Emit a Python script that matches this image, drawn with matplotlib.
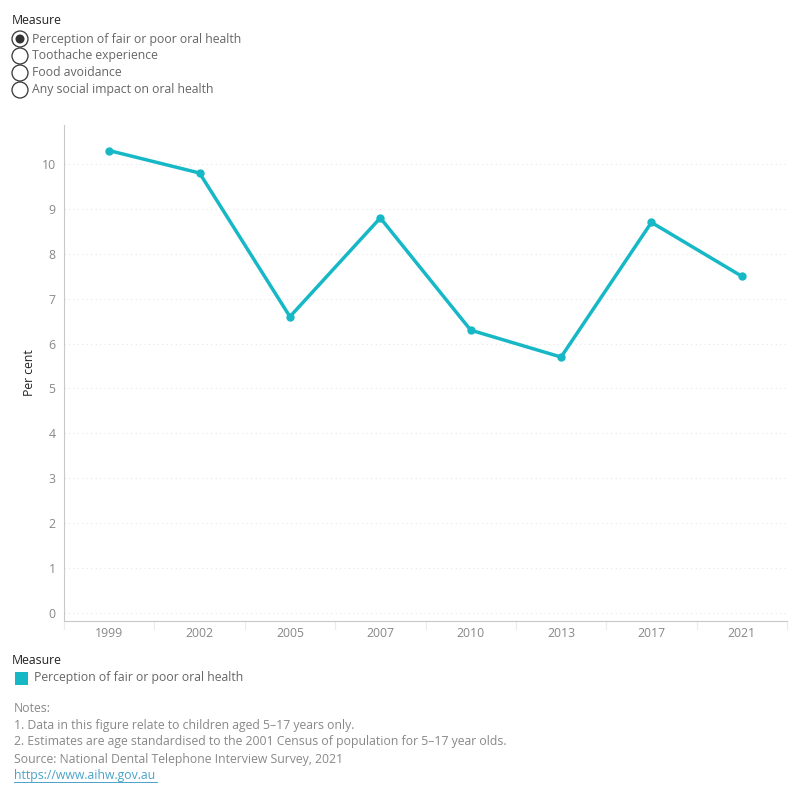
import matplotlib.pyplot as plt
from matplotlib.patches import Circle, Rectangle

years = ['1999', '2002', '2005', '2007', '2010', '2013', '2017', '2021']
fair_poor = [10.3, 9.8, 6.6, 8.8, 6.3, 5.7, 8.7, 7.5]
measures = ['Perception of fair or poor oral health', 'Toothache experience',
            'Food avoidance', 'Any social impact on oral health']
notes = ['Notes:',
         '1. Data in this figure relate to children aged 5\u201317 years only.',
         '2. Estimates are age standardised to the 2001 Census of population for 5\u201317 year olds.',
         'Source: National Dental Telephone Interview Survey, 2021']

teal = '#17B8C6'
grey = '#666666'
fs = 8.8
plt.rcParams['font.family'] = ['Open Sans', 'DejaVu Sans']

fig = plt.figure(figsize=(8, 8), dpi=100)
W, H = 800, 800

def px(x, y):
    return x / W, 1 - y / H

# radio selector at the top
fig.text(*px(12, 21), 'Measure', fontsize=fs, color='#222222', va='center')
for i, m in enumerate(measures):
    y = 39 + i * 17
    cx, cy = px(20, y)
    fig.patches.append(Circle((cx, cy), 8 / W, transform=fig.transFigure,
                              facecolor='white', edgecolor='#333333', lw=0.9))
    if i == 0:
        fig.patches.append(Circle((cx, cy), 4.5 / W, transform=fig.transFigure,
                                  facecolor='#333333', edgecolor='none'))
    fig.text(*px(32, y), m, fontsize=fs, color=grey, va='center')

# main chart
ax = fig.add_axes([64 / W, 1 - 621 / H, (787 - 64) / W, (621 - 125) / H])
x = list(range(len(years)))
ax.plot(x, fair_poor, color=teal, lw=2.5, marker='o', ms=5, solid_joinstyle='round')
ax.set_xlim(-0.5, len(years) - 0.5)
ax.set_ylim(-0.18, 10.87)
ax.set_yticks(range(0, 11))
ax.set_xticks(x)
ax.set_xticklabels(years)
ax.tick_params(axis='both', length=0, labelsize=fs, labelcolor='#888888', pad=6)
ax.tick_params(axis='x', pad=4)
for s in ['top', 'right']:
    ax.spines[s].set_visible(False)
for s in ['left', 'bottom']:
    ax.spines[s].set_color('#c8c8c8')
ax.grid(axis='y', color='#e6e6e6', lw=0.8, ls=(0, (1, 3)))
ax.set_axisbelow(True)
# band separators under the x axis
for b in range(len(years) + 1):
    ax.plot([b - 0.5, b - 0.5], [0, -0.016], transform=ax.get_xaxis_transform(),
            color='#ececec', lw=0.8, clip_on=False)
ax.set_ylabel('Per cent', fontsize=fs, color='#222222', labelpad=4)

# legend
fig.text(*px(12, 661), 'Measure', fontsize=fs, color='#222222', va='center')
fig.patches.append(Rectangle(px(15, 685), 13 / W, 13 / H, transform=fig.transFigure,
                             facecolor=teal, edgecolor='none'))
fig.text(*px(34, 678), measures[0], fontsize=fs, color=grey, va='center')

# notes
for i, n in enumerate(notes):
    fig.text(*px(14, 708 + i * 17), n, fontsize=fs, color='#888888', va='center')
fig.text(*px(14, 775), 'https://www.aihw.gov.au', fontsize=fs, color='#4aa3c8',
         va='center', url='https://www.aihw.gov.au')
fig.lines.append(plt.Line2D([14 / W, 157 / W], [1 - 782 / H] * 2,
                            transform=fig.transFigure, color='#4aa3c8', lw=0.7))

fig.savefig('out.png', dpi=100)
